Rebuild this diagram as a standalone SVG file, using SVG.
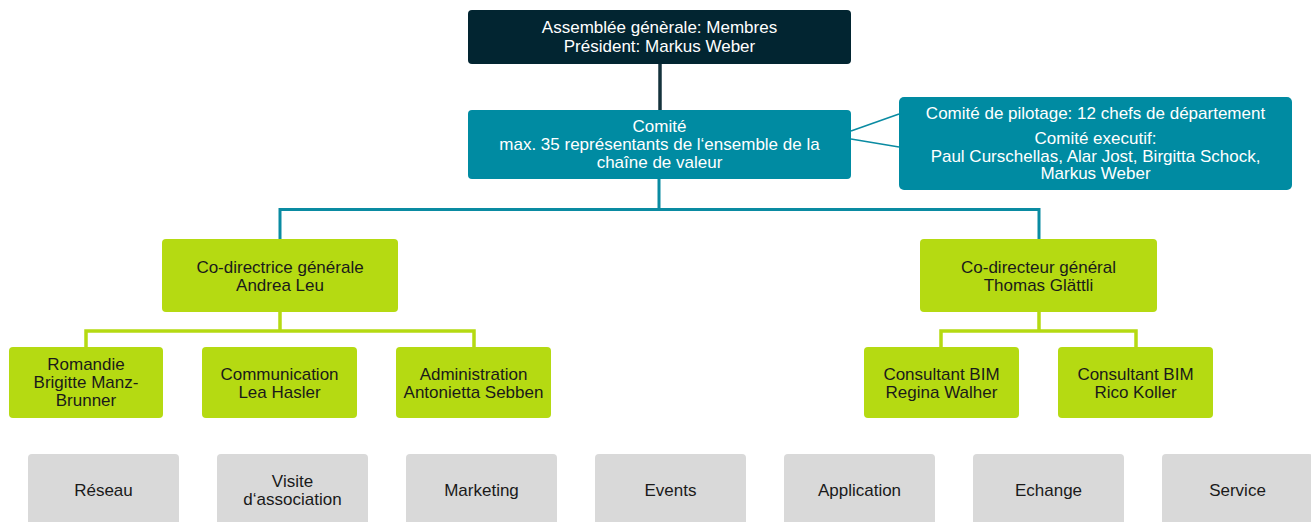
<svg xmlns="http://www.w3.org/2000/svg" width="1311" height="522" viewBox="0 0 1311 522">
<style>
text{font-family:"Liberation Sans",Arial,sans-serif;font-size:17px;text-anchor:middle}
.dark{fill:#022531}
.teal{fill:#008BA2}
.green{fill:#B5DA12}
.grey{fill:#D9D9D9}
.w{fill:#FFFFFF}
.k{fill:#1A1A1A}
.cd{stroke:#14323C;stroke-width:3.5;fill:none}
.ct{stroke:#0A8BA2;stroke-width:3;fill:none}
.ctt{stroke:#0A8BA2;stroke-width:1.6;fill:none}
.cg{stroke:#B5DA12;stroke-width:3.5;fill:none}
</style>
<rect width="1311" height="522" fill="#FFFFFF"/>
<g id="connectors">
<line class="cd" x1="660" y1="64" x2="660" y2="110"/>
<line class="ctt" x1="851" y1="131" x2="899" y2="114"/>
<line class="ctt" x1="851" y1="139" x2="899" y2="147"/>
<path class="ct" d="M659 178 V209.5 M280 240 V209.5 H1039 V240"/>
<path class="cg" d="M280 312 V331 M86 347 V331 H474 V347"/>
<path class="cg" d="M1039 312 V331 M941 347 V331 H1136 V347"/>
</g>
<g id="assemblee">
<rect class="dark" x="468" y="10" width="383" height="54" rx="4"/>
<text class="w" x="659.5" y="33">Assemblée génèrale: Membres</text>
<text class="w" x="659.5" y="51.5">Président: Markus Weber</text>
</g>
<g id="comite">
<rect class="teal" x="468" y="110" width="383" height="69" rx="4"/>
<text class="w" x="659.5" y="132">Comité</text>
<text class="w" x="659.5" y="150">max. 35 représentants de l‘ensemble de la</text>
<text class="w" x="659.5" y="167.5">chaîne de valeur</text>
</g>
<g id="pilotage">
<rect class="teal" x="899" y="97" width="393" height="93" rx="5"/>
<text class="w" x="1095.5" y="118.5">Comité de pilotage: 12 chefs de département</text>
<text class="w" x="1095.5" y="143.5">Comité executif:</text>
<text class="w" x="1095.5" y="161.5">Paul Curschellas, Alar Jost, Birgitta Schock,</text>
<text class="w" x="1095.5" y="178.5">Markus Weber</text>
</g>
<g id="codirectrice">
<rect class="green" x="162" y="239" width="236" height="73" rx="4"/>
<text class="k" x="280" y="272.5">Co-directrice générale</text>
<text class="k" x="280" y="290.5">Andrea Leu</text>
</g>
<g id="codirecteur">
<rect class="green" x="920" y="239" width="237" height="73" rx="4"/>
<text class="k" x="1038.5" y="272.5">Co-directeur général</text>
<text class="k" x="1038.5" y="290.5">Thomas Glättli</text>
</g>
<g id="romandie">
<rect class="green" x="9" y="347" width="154" height="71" rx="4"/>
<text class="k" x="86" y="370">Romandie</text>
<text class="k" x="86" y="388">Brigitte Manz-</text>
<text class="k" x="86" y="406">Brunner</text>
</g>
<g id="communication">
<rect class="green" x="202" y="347" width="155" height="71" rx="4"/>
<text class="k" x="279.5" y="380">Communication</text>
<text class="k" x="279.5" y="398">Lea Hasler</text>
</g>
<g id="administration">
<rect class="green" x="396" y="347" width="155" height="71" rx="4"/>
<text class="k" x="473.5" y="380">Administration</text>
<text class="k" x="473.5" y="398">Antonietta Sebben</text>
</g>
<g id="consultant1">
<rect class="green" x="864" y="347" width="155" height="71" rx="4"/>
<text class="k" x="941.5" y="380">Consultant BIM</text>
<text class="k" x="941.5" y="398">Regina Walher</text>
</g>
<g id="consultant2">
<rect class="green" x="1058" y="347" width="155" height="71" rx="4"/>
<text class="k" x="1135.5" y="380">Consultant BIM</text>
<text class="k" x="1135.5" y="398">Rico Koller</text>
</g>
<g id="reseau">
<rect class="grey" x="28" y="454" width="151" height="75" rx="4"/>
<text class="k" x="103.5" y="496">Réseau</text>
</g>
<g id="visite">
<rect class="grey" x="217" y="454" width="151" height="75" rx="4"/>
<text class="k" x="292.5" y="487">Visite</text>
<text class="k" x="292.5" y="505">d‘association</text>
</g>
<g id="marketing">
<rect class="grey" x="406" y="454" width="151" height="75" rx="4"/>
<text class="k" x="481.5" y="496">Marketing</text>
</g>
<g id="events">
<rect class="grey" x="595" y="454" width="151" height="75" rx="4"/>
<text class="k" x="670.5" y="496">Events</text>
</g>
<g id="application">
<rect class="grey" x="784" y="454" width="151" height="75" rx="4"/>
<text class="k" x="859.5" y="496">Application</text>
</g>
<g id="echange">
<rect class="grey" x="973" y="454" width="151" height="75" rx="4"/>
<text class="k" x="1048.5" y="496">Echange</text>
</g>
<g id="service">
<rect class="grey" x="1162" y="454" width="151" height="75" rx="4"/>
<text class="k" x="1237.5" y="496">Service</text>
</g>
</svg>
